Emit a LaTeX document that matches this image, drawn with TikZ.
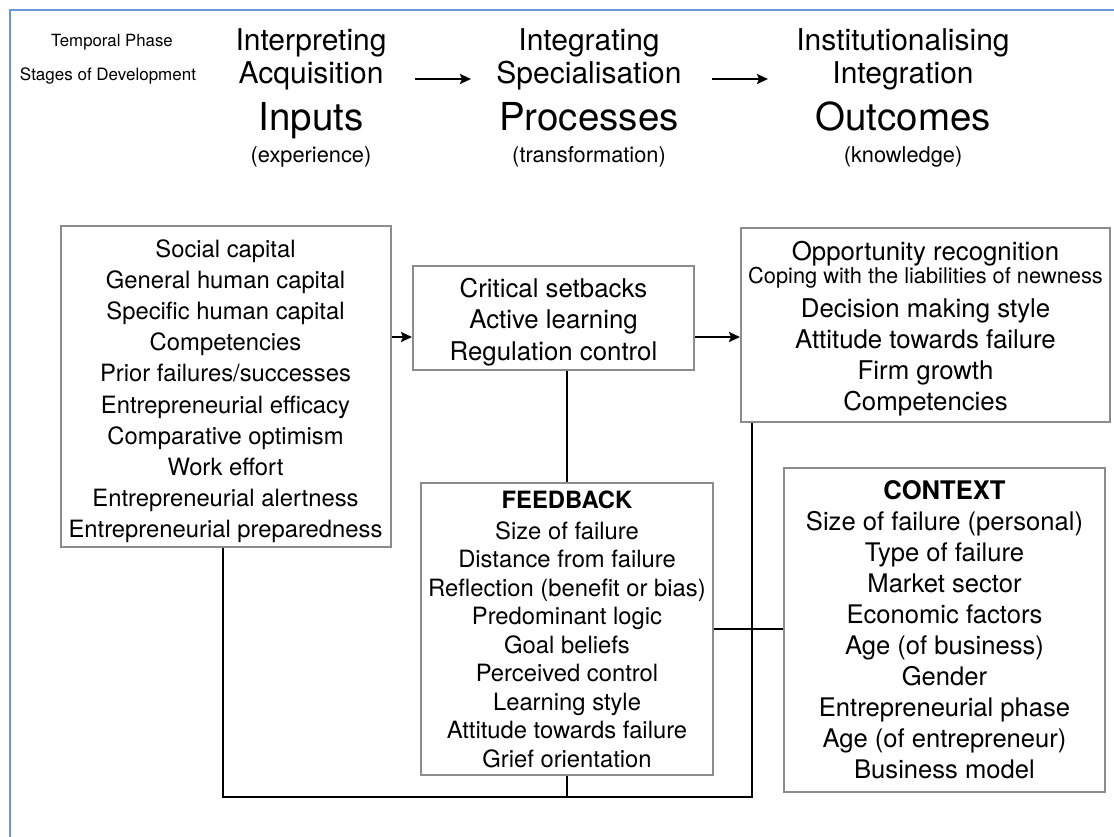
\documentclass[tikz,border=0pt]{standalone}
\usepackage{fontspec}
\setmainfont{TeX Gyre Heros}
\usetikzlibrary{arrows.meta,positioning}
\definecolor{frameblue}{HTML}{6A96D6}
\definecolor{boxgrey}{HTML}{8C8C8C}
\tikzstyle{frame} = [draw=frameblue, line width=2.5pt]
\tikzstyle{factor} = [rectangle, draw=boxgrey, line width=2pt, align=center, inner sep=0pt]
\tikzstyle{phase} = [anchor=base, inner sep=0pt]
\tikzstyle{link} = [line width=2pt]
\tikzstyle{arrow} = [line width=2pt, -{Stealth[length=11pt,width=10pt,inset=2pt]}]
\newcommand{\phasefont}{\fontsize{30}{30}\selectfont}
\newcommand{\stagefont}{\fontsize{38.5}{38.5}\selectfont}
\newcommand{\notefont}{\fontsize{21.8}{21.8}\selectfont}
% pushes the first line of a box down a little
\newcommand{\boxtop}{\rule{0pt}{27pt}}

\begin{document}
\begin{tikzpicture}[x=1pt, y=-1pt]
    \useasboundingbox (0,0) rectangle (1114,836);
    \draw [frame] (10,840) -- (10,10) -- (1118,10);

    % row labels
    \node (tp) [phase, font=\fontsize{16.8}{17}\selectfont] at (112,46) {Temporal Phase};
    \node (sd) [phase, font=\fontsize{17}{17}\selectfont] at (108,80) {Stages of Development};

    % the three stages
    \node (in1) [phase, font=\phasefont] at (311,50) {Interpreting};
    \node (in2) [phase, font=\phasefont] at (311,83) {Acquisition};
    \node (in3) [phase, font=\stagefont] at (311,130) {Inputs};
    \node (in4) [phase, font=\notefont] at (311,162) {(experience)};

    \node (pr1) [phase, font=\phasefont] at (589,50) {Integrating};
    \node (pr2) [phase, font=\phasefont] at (589,83) {Specialisation};
    \node (pr3) [phase, font=\stagefont] at (589,130) {Processes};
    \node (pr4) [phase, font=\notefont] at (589,162) {(transformation)};

    \node (ou1) [phase, font=\phasefont] at (903,50) {Institutionalising};
    \node (ou2) [phase, font=\phasefont] at (903,83) {Integration};
    \node (ou3) [phase, font=\stagefont] at (903,130) {Outcomes};
    \node (ou4) [phase, font=\notefont] at (903,162) {(knowledge)};

    \coordinate (go1) at (415,79);
    \coordinate (to1) at (471,79);
    \coordinate (go2) at (712,79);
    \coordinate (to2) at (768,79);
    \draw [arrow] (go1) -- (to1);
    \draw [arrow] (go2) -- (to2);

    % boxes
    \node (inputs) [factor, minimum width=330pt, minimum height=321pt,
        font=\fontsize{23.8}{31.2}\selectfont] at (225.5,386.5)
        {\boxtop Social capital\\General human capital\\Specific human capital\\Competencies\\
         Prior failures/successes\\Entrepreneurial efficacy\\Comparative optimism\\
         Work effort\\Entrepreneurial alertness\\Entrepreneurial preparedness};
    \node (process) [factor, minimum width=281pt, minimum height=104pt,
        font=\fontsize{25.8}{31.5}\selectfont] at (553.5,318)
        {\boxtop Critical setbacks\\Active learning\\Regulation control};
    \node (outcomes) [factor, minimum width=369pt, minimum height=194pt,
        font=\fontsize{25.8}{31}\selectfont] at (925.5,325)
        {\boxtop Opportunity recognition\\[-8pt]
         {\fontsize{21.8}{24}\selectfont Coping with the liabilities of newness}\\[3pt]
         Decision making style\\Attitude towards failure\\Firm growth\\Competencies};
    \node (feedback) [factor, minimum width=292pt, minimum height=292pt,
        font=\fontsize{23.8}{28.5}\selectfont] at (567,629)
        {\textbf{FEEDBACK}\\[2.5pt]Size of failure\\Distance from failure\\
         Reflection (benefit or bias)\\Predominant logic\\Goal beliefs\\
         Perceived control\\Learning style\\Attitude towards failure\\Grief orientation};
    \node (context) [factor, minimum width=321pt, minimum height=324pt,
        font=\fontsize{25.6}{31}\selectfont] at (944.5,630)
        {\textbf{CONTEXT}\\Size of failure (personal)\\Type of failure\\Market sector\\
         Economic factors\\Age (of business)\\Gender\\Entrepreneurial phase\\
         Age (of entrepreneur)\\Business model};

    % connectors
    \coordinate (feed) at (0,337);
    \coordinate (loop) at (0,797);
    \coordinate (tap) at ([xshift=12pt]outcomes.south west);

    \draw [arrow] (feed -| inputs.east) -- (feed -| process.west);
    \draw [arrow] (feed -| process.east) -- (feed -| outcomes.west);
    \draw [link] (feedback.north |- process.south) -- (feedback.north);
    \draw [link] ([xshift=-3pt]inputs.south) |- (tap |- loop) -- (tap);
    \draw [link] (feedback.south) -- (feedback.south |- loop);
    \draw [link] (feedback.east) -- (feedback.east -| context.west);
\end{tikzpicture}
\end{document}
